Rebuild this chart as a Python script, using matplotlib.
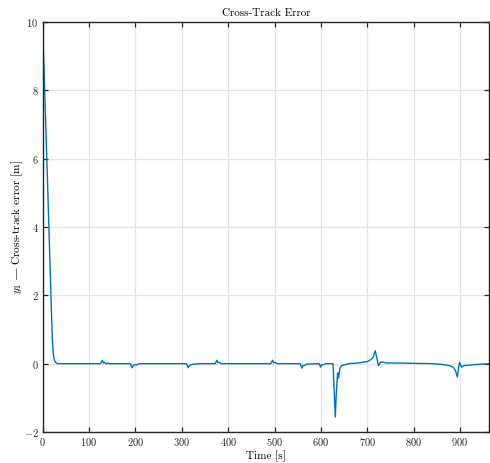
import matplotlib
matplotlib.use("Agg")
import matplotlib.pyplot as plt

plt.rcParams.update({
    "font.family": "serif",
    "font.serif": ["cmr10"],
    "mathtext.fontset": "cm",
    "axes.unicode_minus": False,
    "axes.formatter.use_mathtext": True,
})

# Cross-track error samples: time [s] and error [m]
time_s = [0, 4, 10, 14, 18, 21, 23, 25, 28, 32, 40,
          125, 129, 131, 133, 136, 140, 145,
          189, 193, 195, 198, 202, 206, 212,
          310, 314, 316, 319, 323, 327, 335,
          372, 376, 378, 381, 385, 392,
          492, 496, 498, 501, 505, 512,
          555, 559, 561, 564, 568, 575, 590,
          596, 599, 601, 604, 610, 620, 626, 628, 631, 633, 636, 638, 641, 644,
          650, 660, 680, 700, 708, 713, 717, 720, 724, 728, 733, 740, 760,
          800, 840, 860, 875, 885, 890, 894, 897, 899, 903, 908, 915, 930,
          950, 965]
error_m = [10.0, 8.2, 5.6, 3.8, 2.0, 0.7, 0.3, 0.12, 0.04, 0.0, 0.0,
           0.0, 0.1, 0.02, 0.04, 0.0, 0.01, 0.0,
           0.0, -0.12, -0.06, -0.03, -0.04, -0.01, 0.0,
           0.0, -0.12, -0.06, -0.04, -0.02, -0.02, 0.0,
           0.0, 0.1, 0.03, 0.04, 0.0, 0.0,
           0.0, 0.1, 0.03, 0.04, 0.0, 0.0,
           0.0, -0.13, -0.05, -0.06, -0.02, -0.01, 0.0,
           0.0, -0.1, -0.03, -0.04, 0.0, 0.0, 0.0, -0.6, -1.56, -0.9, -0.27, -0.42, -0.13, -0.06,
           -0.04, 0.0, 0.02, 0.06, 0.12, 0.2, 0.38, 0.2, -0.06, 0.04, 0.05, 0.02, 0.02,
           0.01, 0.0, -0.02, -0.05, -0.1, -0.2, -0.39, -0.1, 0.04, -0.1, -0.06, -0.05, -0.03,
           -0.01, 0.0]

x_ticks = [0, 100, 200, 300, 400, 500, 600, 700, 800, 900]
y_ticks = [-2, 0, 2, 4, 6, 8, 10]

fig = plt.figure(figsize=(4.9, 4.63), dpi=100)
ax = fig.add_axes([42.6 / 490, 31 / 463, (489.3 - 42.6) / 490, (432 - 22) / 463])

ax.plot(time_s, error_m, color="#0072BD", linewidth=1.0)

ax.set_xlim(0, 963)
ax.set_ylim(-2, 10)
ax.set_xticks(x_ticks)
ax.set_yticks(y_ticks)
ax.grid(True, color="#e3e3e3", linewidth=0.9)
ax.set_axisbelow(True)

for side in ax.spines.values():
    side.set_color("#262626")
    side.set_linewidth(1.0)
ax.tick_params(direction="in", top=True, right=True, length=3.5, width=0.9,
               colors="#262626", labelsize=7.5, pad=3)

ax.set_title("Cross-Track Error", fontsize=8, pad=4)
ax.set_xlabel("Time [s]", fontsize=8, labelpad=2)
# em dash drawn through mathtext so it falls back to a font that has the glyph
ax.set_ylabel(r"$y_1$ $\mathrm{—}$ Cross-track error [m]", fontsize=8.2, labelpad=-1)

fig.savefig("out.png", dpi=100)
